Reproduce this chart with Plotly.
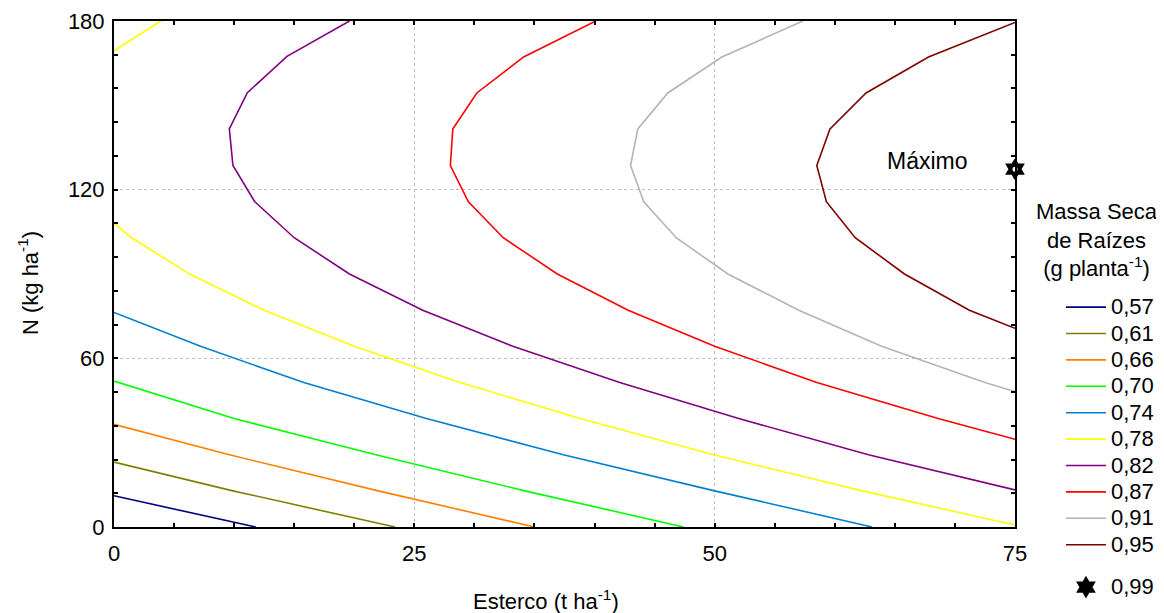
import plotly.graph_objects as go

# ---- data (Esterco t/ha, N kg/ha) ----
levels = ["0,57", "0,61", "0,66", "0,70", "0,74", "0,78", "0,82", "0,87", "0,91", "0,95"]
colors = ["#000080", "#808000", "#ff8000", "#00ff00", "#0080d0", "#ffff00",
          "#800080", "#ff0000", "#b4b4b4", "#800000"]

x_057 = [0, 11.8]
y_057 = [11.1, 0]

x_061 = [0, 9.9, 23.4]
y_061 = [23.1, 12.86, 0]

x_066 = [0, 9.6, 22.0, 35.0]
y_066 = [36.5, 25.7, 12.86, 0]

x_070 = [0, 10.0, 21.8, 34.2, 47.4]
y_070 = [51.9, 38.6, 25.7, 12.86, 0]

x_074 = [0, 7.2, 15.8, 26.0, 37.4, 50.0, 63.1]
y_074 = [76.3, 64.3, 51.4, 38.6, 25.7, 12.86, 0]

x_078_low = [0, 1.5, 6.4, 12.5, 20.0, 28.8, 38.8, 49.9, 62.3, 75]
y_078_low = [108.1, 102.8, 89.7, 77.1, 64.3, 51.4, 38.6, 25.7, 12.86, 0.7]
x_078_up = [0, 3.9]
y_078_up = [169.4, 180]

x_082 = [19.6, 14.4, 11.1, 9.6, 9.9, 11.7, 15.0, 19.6, 25.7, 33.2, 42.1, 52.0, 62.8, 75]
y_082 = [180, 167.4, 154.5, 141.6, 128.6, 115.8, 102.9, 90.0, 77.1, 64.3, 51.4, 38.6, 25.7, 13.2]

x_087 = [40.1, 34.1, 30.2, 28.2, 28.0, 29.5, 32.4, 36.9, 42.8, 50.0, 58.5, 68.6, 75]
y_087 = [180, 167.2, 154.4, 141.6, 128.6, 115.7, 102.9, 90.0, 77.1, 64.3, 51.4, 38.6, 31.2]

x_091 = [57.35, 50.6, 46.1, 43.6, 43.0, 44.1, 46.8, 51.1, 57.0, 63.9, 72.5, 75]
y_091 = [180, 167.2, 154.4, 141.6, 128.6, 115.7, 102.9, 90.0, 77.1, 64.3, 51.4, 48.2]

x_095 = [75, 67.8, 62.6, 59.6, 58.5, 59.3, 61.7, 65.8, 71.2, 75]
y_095 = [179.5, 167.2, 154.4, 141.6, 128.6, 115.7, 102.9, 90.0, 77.1, 70.7]

max_x = [75]
max_y = [127.3]
max_label = "0,99"

x_ticks = [0, 25, 50, 75]
y_ticks = [0, 60, 120, 180]

FONT = "Arial, Liberation Sans, sans-serif"
FS = 22

lines_x = [x_057, x_061, x_066, x_070, x_074, x_078_low, x_082, x_087, x_091, x_095]
lines_y = [y_057, y_061, y_066, y_070, y_074, y_078_low, y_082, y_087, y_091, y_095]

fig = go.Figure()
for name, col, xs, ys in zip(levels, colors, lines_x, lines_y):
    fig.add_trace(go.Scatter(
        x=xs, y=ys, mode="lines", line=dict(color=col, width=1.6),
        name='<span style="font-size:%dpx">%s</span>' % (FS, name),
        legendgroup="c", hoverinfo="skip"))
# second branch of 0,78
fig.add_trace(go.Scatter(x=x_078_up, y=y_078_up, mode="lines",
                         line=dict(color=colors[5], width=1.6),
                         showlegend=False, legendgroup="c", hoverinfo="skip"))
fig.add_trace(go.Scatter(
    x=max_x, y=max_y, mode="markers", cliponaxis=False,
    marker=dict(symbol="hexagram", size=15, color="black",
                line=dict(color="black", width=1.5)),
    name='<span style="font-size:%dpx">%s</span>' % (FS, max_label),
    legendgroup="m"))
fig.add_trace(go.Scatter(
    x=max_x, y=max_y, mode="markers", cliponaxis=False, showlegend=False,
    marker=dict(symbol="circle", size=5, color="white"), hoverinfo="skip"))

fig.add_annotation(x=67.7, y=130.3, xref="x", yref="y", text="Máximo",
                   showarrow=False, font=dict(size=23, color="black", family=FONT))
fig.add_annotation(x=0.4799, y=-0.144, xref="paper", yref="paper",
                   xanchor="center", yanchor="middle",
                   text="Esterco (t ha<sup>-1</sup>)", showarrow=False,
                   font=dict(size=FS, color="black", family=FONT))
fig.add_annotation(x=-0.0947, y=0.4815, xref="paper", yref="paper",
                   xanchor="center", yanchor="middle",
                   text="N (kg ha<sup>-1</sup>)", showarrow=False, textangle=-90,
                   font=dict(size=FS, color="black", family=FONT))
fig.add_annotation(x=1.091, y=0.652, xref="paper", yref="paper", xanchor="center",
                   yanchor="top",
                   text="Massa Seca<br>de Raízes<br>(g planta<sup>-1</sup>)",
                   showarrow=False, align="center",
                   font=dict(size=FS, color="black", family=FONT))

axis_common = dict(showline=True, linecolor="black", linewidth=2, mirror="ticks",
                   ticks="inside", ticklen=4, tickwidth=1.5, tickcolor="black",
                   showgrid=True, gridcolor="#bdbdbd", griddash="dot", gridwidth=1,
                   zeroline=False, tickfont=dict(size=FS, color="black", family=FONT))
fig.update_xaxes(range=[0, 75], tickvals=x_ticks, ticktext=[str(v) for v in x_ticks],
                 ticklabelstandoff=6,
                 minor=dict(dtick=5, tick0=0, ticks="inside", ticklen=4,
                            tickcolor="black", showgrid=False),
                 **axis_common)
fig.update_yaxes(range=[0, 180], tickvals=y_ticks, ticktext=[str(v) for v in y_ticks],
                 ticklabelstandoff=3,
                 minor=dict(dtick=12, tick0=0, ticks="inside", ticklen=4,
                            tickcolor="black", showgrid=False),
                 **axis_common)

# page body has an 8px margin, so the figure is 8px smaller and shifted
fig.update_layout(
    width=1156, height=605,
    margin=dict(l=106, r=149, t=13, b=86, autoexpand=False),
    plot_bgcolor="white", paper_bgcolor="white",
    font=dict(family=FONT, size=18, color="black"),
    showlegend=True,
    legend=dict(x=1.051, y=0.4706, xanchor="left", yanchor="top",
                font=dict(size=18, family=FONT, color="black"),
                itemwidth=40, tracegroupgap=16, bgcolor="rgba(0,0,0,0)",
                traceorder="grouped"),
)

fig.write_html("out.html")
